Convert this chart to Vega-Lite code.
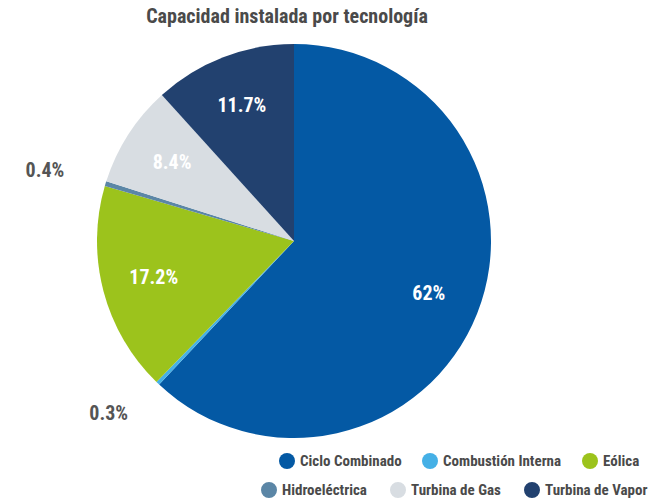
{
  "$schema": "https://vega.github.io/schema/vega-lite/v6.json",
  "width": 588,
  "height": 422,
  "autosize": {"type": "none"},
  "padding": {"left": 0, "top": 30, "right": 75, "bottom": 51},
  "background": "white",
  "config": {"view": {"stroke": null}},
  "title": {
    "text": "Capacidad instalada por tecnología",
    "font": "Roboto Condensed, Roboto, sans-serif",
    "fontSize": 20,
    "fontWeight": "bold",
    "color": "#4a4a4a",
    "anchor": "middle",
    "offset": 4,
    "dy": 24,
    "dx": -7
  },
  "data": {
    "values": [
      {"tecnologia": "Ciclo Combinado", "valor": 0.62, "orden": 1},
      {"tecnologia": "Combustión Interna", "valor": 0.003, "orden": 2},
      {"tecnologia": "Eólica", "valor": 0.172, "orden": 3},
      {"tecnologia": "Hidroeléctrica", "valor": 0.004, "orden": 4},
      {"tecnologia": "Turbina de Gas", "valor": 0.084, "orden": 5},
      {"tecnologia": "Turbina de Vapor", "valor": 0.117, "orden": 6}
    ]
  },
  "encoding": {
    "theta": {"field": "valor", "type": "quantitative", "stack": true},
    "order": {"field": "orden", "type": "quantitative"}
  },
  "layer": [
    {
      "mark": {"type": "arc", "outerRadius": 197},
      "encoding": {
        "color": {
          "field": "tecnologia",
          "type": "nominal",
          "scale": {
            "domain": ["Ciclo Combinado", "Combustión Interna", "Eólica", "Hidroeléctrica", "Turbina de Gas", "Turbina de Vapor"],
            "range": ["#0459a4", "#45b0e6", "#9cc31c", "#5b86a6", "#d8dde2", "#22416f"]
          },
          "legend": {
            "title": null,
            "orient": "none",
            "legendX": 279,
            "legendY": 423,
            "direction": "horizontal",
            "values": ["Ciclo Combinado", "Combustión Interna", "Eólica"],
            "columnPadding": 20,
            "symbolType": "circle",
            "symbolSize": 256,
            "symbolStrokeWidth": 0,
            "labelOffset": 5,
            "labelFont": "Roboto Condensed, Roboto, sans-serif",
            "labelFontSize": 15,
            "labelFontWeight": "bold",
            "labelColor": "#4a4a4a",
            "labelLimit": 200
          }
        }
      }
    },
    {
      "mark": {"type": "text", "text": ""},
      "encoding": {
        "stroke": {
          "field": "tecnologia",
          "type": "nominal",
          "scale": {
            "domain": ["Hidroeléctrica", "Turbina de Gas", "Turbina de Vapor"],
            "range": ["#5b86a6", "#d8dde2", "#22416f"]
          },
          "legend": {
            "title": null,
            "orient": "none",
            "legendX": 261,
            "legendY": 452,
            "direction": "horizontal",
            "columnPadding": 11,
            "symbolType": "circle",
            "symbolSize": 64,
            "symbolStrokeWidth": 8,
            "symbolFillColor": "transparent",
            "labelOffset": 5,
            "labelFont": "Roboto Condensed, Roboto, sans-serif",
            "labelFontSize": 15,
            "labelFontWeight": "bold",
            "labelColor": "#4a4a4a",
            "labelLimit": 200
          }
        }
      }
    },
    {
      "mark": {
        "type": "text",
        "radius": 145,
        "font": "Roboto Condensed, Roboto, sans-serif",
        "fontSize": 20,
        "fontWeight": "bold",
        "fill": "white"
      },
      "encoding": {
        "text": {
          "condition": {"test": "datum.valor < 0.05", "value": ""},
          "field": "valor",
          "type": "quantitative",
          "format": ".1~%"
        }
      }
    },
    {
      "mark": {
        "type": "text",
        "radius": 240,
        "align": "right",
        "font": "Roboto Condensed, Roboto, sans-serif",
        "fontSize": 20,
        "fontWeight": "bold",
        "fill": "#555555"
      },
      "encoding": {
        "text": {
          "condition": {"test": "datum.valor >= 0.05", "value": ""},
          "field": "valor",
          "type": "quantitative",
          "format": ".1~%"
        }
      }
    }
  ]
}
